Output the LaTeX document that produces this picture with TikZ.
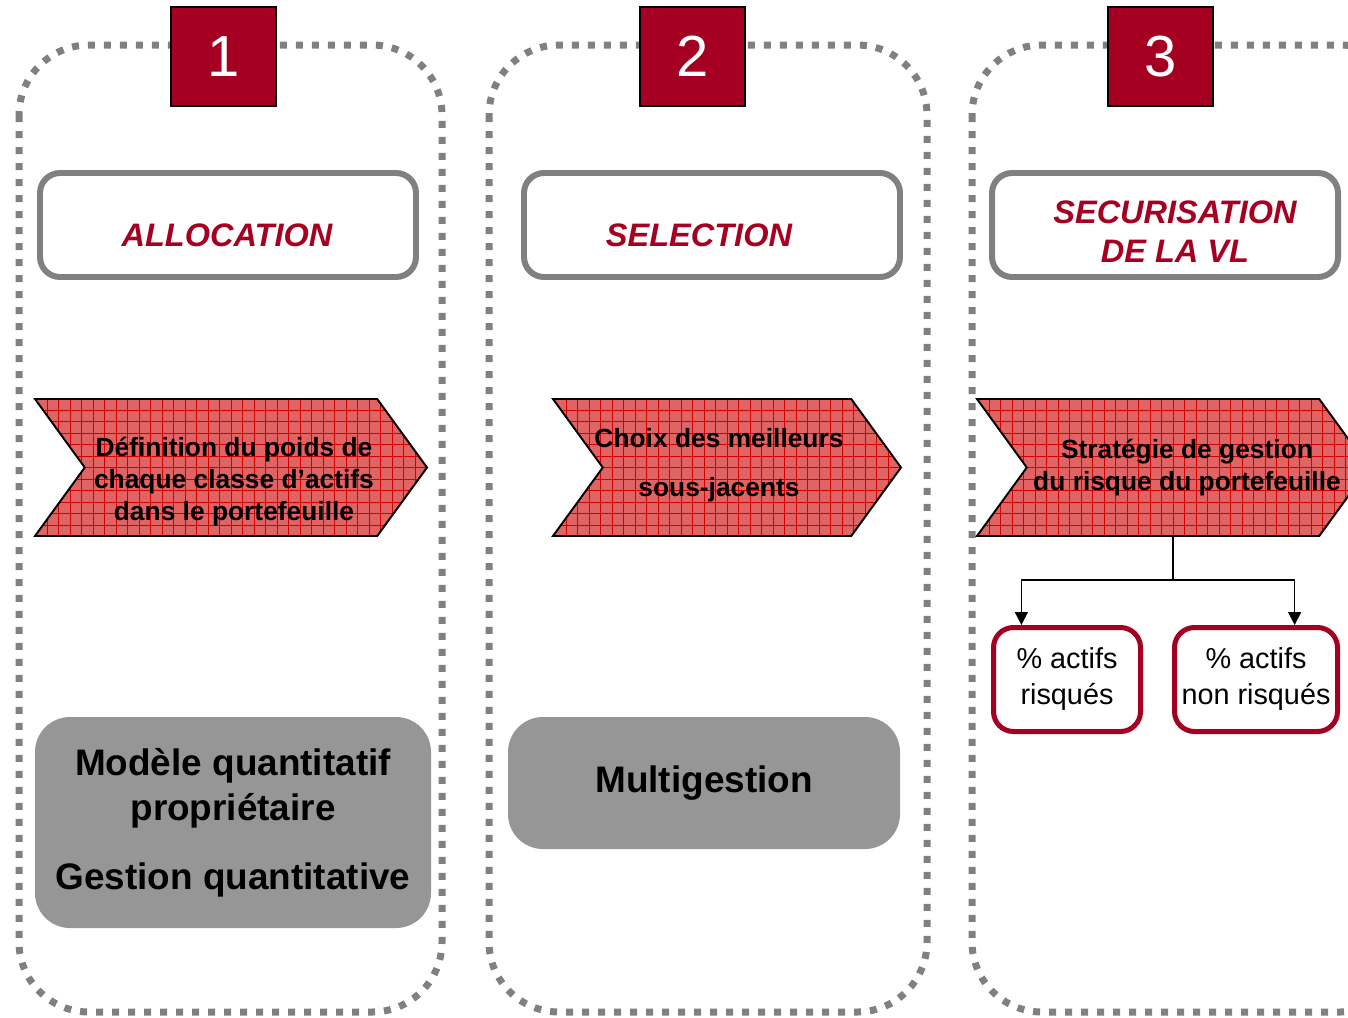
\documentclass[tikz,border=0pt]{standalone}
\usepackage{fontspec}
\setmainfont{Liberation Sans}
\usetikzlibrary{shapes,shapes.symbols,calc,arrows.meta}
\definecolor{bordeaux}{HTML}{A50021}
\definecolor{chevfill}{HTML}{E06464}
\definecolor{chevgrid}{HTML}{D40000}
\definecolor{boxgray}{HTML}{969696}
\definecolor{linegray}{HTML}{808080}

\begin{document}
\begin{tikzpicture}
    \tikzstyle{panel}=[
      draw=linegray,
      line width=0.14cm,
      dash pattern=on 0.14cm off 0.18cm,
      rounded corners=1.4cm,
    ]
    \tikzstyle{numbox}=[
      draw=black,
      line width=1.1pt,
      fill=bordeaux,
      text=white,
      minimum width=2.1cm,
      minimum height=1.98cm,
      font=\fontsize{33}{33}\selectfont,
    ]
    \tikzstyle{titlebox}=[
      draw=linegray,
      line width=3.4pt,
      rounded corners=0.4cm,
      fill=white,
      minimum height=2.08cm,
    ]
    \tikzstyle{titletext}=[
      align=center,
      text=bordeaux,
      font=\fontsize{18.5}{22}\selectfont\bfseries\itshape,
    ]
    \tikzstyle{chevron}=[
      signal,
      signal from=west,
      signal to=east,
      signal pointer angle=108,
      draw=black,
      line width=1.1pt,
      fill=chevfill,
      minimum height=2.74cm,
      inner sep=0pt,
      path picture={\draw[chevgrid, line width=0.5pt] (path picture bounding box.south west) grid[step=0.23] (path picture bounding box.north east);},
    ]
    \tikzstyle{chevtext}=[
      align=center,
      inner sep=0pt,
      font=\fontsize{15}{18.2}\selectfont\bfseries,
    ]
    \tikzstyle{toolbox}=[
      fill=boxgray,
      rounded corners=0.7cm,
      align=center,
      font=\fontsize{21}{25.6}\selectfont\bfseries,
    ]
    \tikzstyle{partbox}=[
      draw=bordeaux,
      line width=2.85pt,
      rounded corners=0.4cm,
      fill=white,
      minimum height=2.08cm,
      align=center,
      font=\fontsize{16.4}{20.5}\selectfont,
    ]
    \tikzstyle{link}  = [line width=0.85pt,draw=black]
    \tikzstyle{dlink} = [link,-{Triangle[width=0.26cm,length=0.26cm]}]

    \useasboundingbox (0,0) rectangle (26.96,-20.34);

    {
      \draw[panel] (0.38,-0.9) rectangle (8.84,-20.24);
      \draw[panel] (9.78,-0.9) rectangle (18.54,-20.24);
      \draw[panel] (19.44,-0.9) rectangle (28.2,-20.24);
    }

    {
      \node[numbox] (num1) at (4.47,-1.13) {1};
      \node[numbox] (num2) at (13.85,-1.13) {2};
      \node[numbox] (num3) at (23.21,-1.13) {3};
    }

    {
      \node[titlebox, minimum width=7.52cm] (title1) at (4.56,-4.5) {};
      \node[titlebox, minimum width=7.52cm] (title2) at (14.24,-4.5) {};
      \node[titlebox, minimum width=6.92cm] (title3) at (23.3,-4.5) {};

      \node[titletext] (title1text) at (4.54,-4.7) {ALLOCATION};
      \node[titletext] (title2text) at (13.98,-4.7) {SELECTION};
      \node[titletext] (title3text) at (23.5,-4.63) {SECURISATION\\DE LA VL};
    }

    {
      \node[chevron, minimum width=7.84cm] (ch1) at (4.62,-9.35) {};
      \node[chevron, minimum width=6.96cm] (ch2) at (14.54,-9.35) {};
      \node[chevron, minimum width=7.84cm] (ch3) at (23.46,-9.35) {};

      \node[chevtext] (ch1text) at (4.68,-9.64) {D\'efinition du poids de\\chaque classe d'actifs\\dans le portefeuille};
      \node[chevtext] (ch2text) at (14.38,-9.31) {Choix des meilleurs\\[0.34cm]sous-jacents};
      \node[chevtext] (ch3text) at (23.74,-9.36) {Strat\'egie de gestion\\du risque du portefeuille};
    }

    {
      \node[toolbox, minimum width=7.92cm, minimum height=4.22cm] (tool1) at (4.66,-16.45) {Mod\`ele quantitatif\\propri\'etaire\\[0.48cm]Gestion quantitative};
      \node[toolbox, minimum width=7.84cm, minimum height=2.64cm] (tool2) at (14.08,-15.66) {Multigestion};
    }

    {
      \node[partbox, minimum width=2.94cm] (risky) at (21.34,-13.59) {\% actifs\\risqu\'es};
      \node[partbox, minimum width=3.26cm] (safe) at (25.12,-13.59) {\% actifs\\non risqu\'es};
    }

    {
      \coordinate (split) at (23.46,-11.6);
      \draw[link] (ch3.south)--(split);
      \draw[dlink] (split) -| ($(risky.north west)!0.2!(risky.north east)$);
      \draw[dlink] (split) -| ($(safe.north west)!0.73!(safe.north east)$);
    }
\end{tikzpicture}
\end{document}
